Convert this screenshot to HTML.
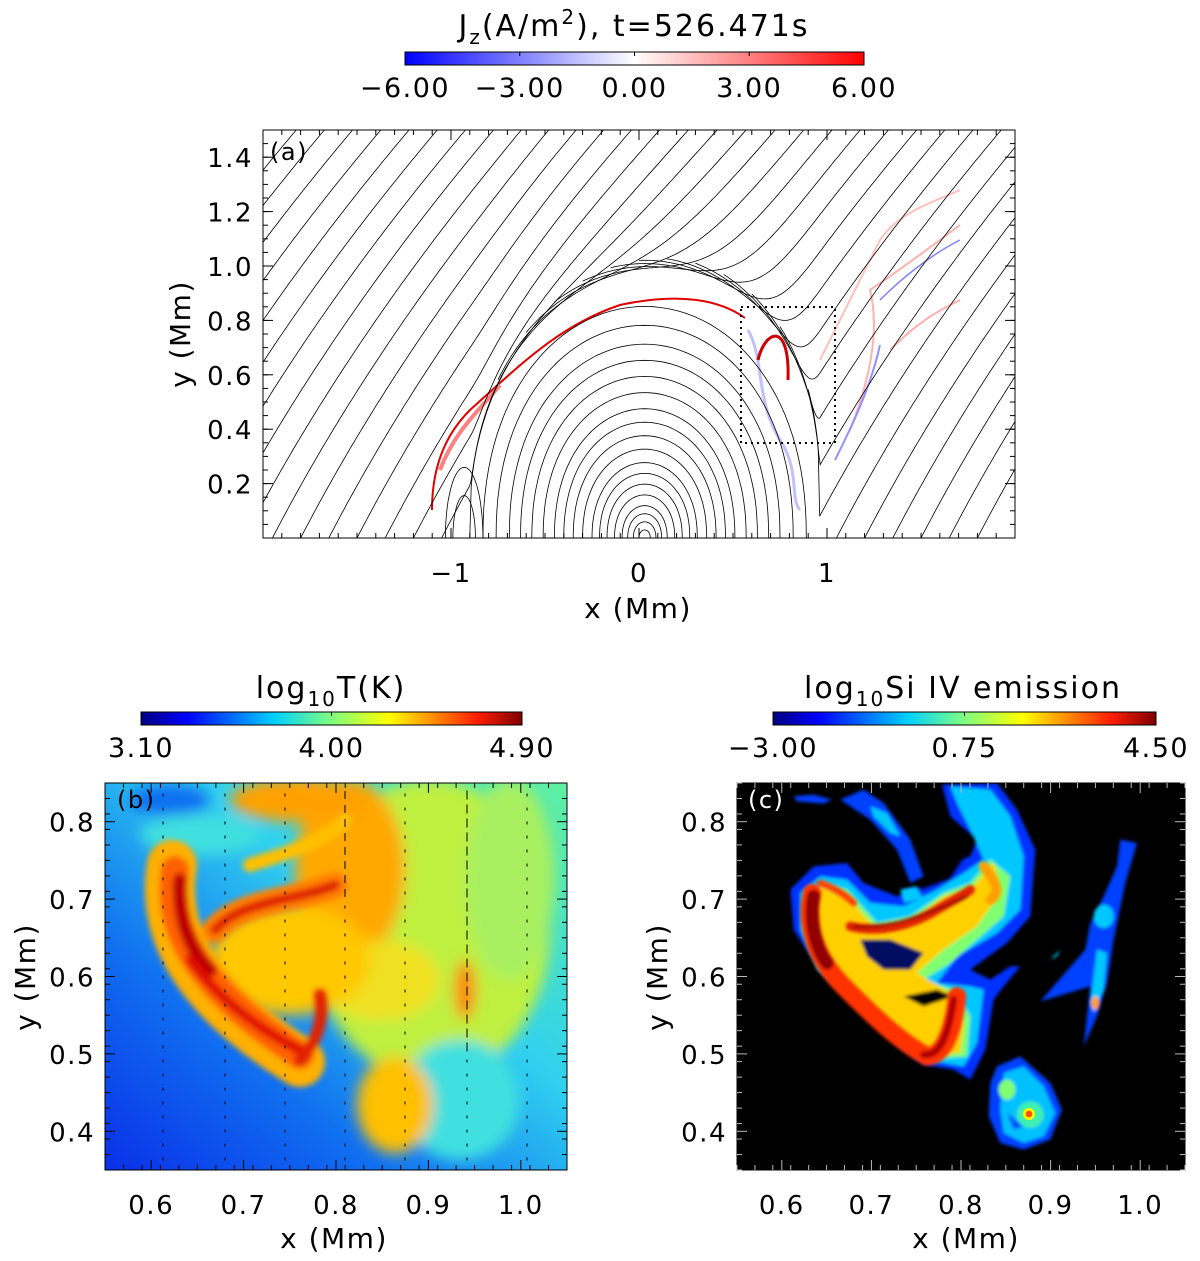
<!DOCTYPE html>
<html><head><meta charset="utf-8"><style>
body{margin:0;background:#fff;}
svg text{font-family:"DejaVu Sans","Liberation Sans",sans-serif;fill:#000;letter-spacing:1.5px;}
</style></head><body>
<svg id="fig" width="1200" height="1256" viewBox="0 0 1200 1256" xmlns="http://www.w3.org/2000/svg">
<defs>
<linearGradient id="gJ" x1="0" x2="1" y1="0" y2="0"><stop offset="0" stop-color="#0000ff"/><stop offset="0.5" stop-color="#ffffff"/><stop offset="1" stop-color="#ff0000"/></linearGradient>
<linearGradient id="gJet" x1="0" x2="1" y1="0" y2="0"><stop offset="0" stop-color="#00007f"/><stop offset="0.12" stop-color="#0000ff"/><stop offset="0.35" stop-color="#00d0ff"/><stop offset="0.5" stop-color="#7fff7f"/><stop offset="0.65" stop-color="#ffff00"/><stop offset="0.88" stop-color="#ff2000"/><stop offset="1" stop-color="#7f0000"/></linearGradient>
<linearGradient id="gBg" x1="0" y1="1" x2="1" y2="0"><stop offset="0" stop-color="#0a30e8"/><stop offset="0.3" stop-color="#1070f0"/><stop offset="0.6" stop-color="#30d0f0"/><stop offset="1" stop-color="#60f0a0"/></linearGradient>
<filter id="bl6" x="-50%" y="-50%" width="200%" height="200%"><feGaussianBlur stdDeviation="7"/></filter>
<filter id="bl3" x="-50%" y="-50%" width="200%" height="200%"><feGaussianBlur stdDeviation="3"/></filter>
<filter id="bl5z" x="-20%" y="-20%" width="140%" height="140%"><feGaussianBlur stdDeviation="5"/></filter>
<clipPath id="clipA"><rect x="263" y="130" width="752" height="408"/></clipPath>
<clipPath id="clipB"><rect x="105" y="783" width="462" height="387"/></clipPath>
<clipPath id="clipC"><rect x="737" y="783" width="448" height="387"/></clipPath>
</defs>

<text x="634" y="36" font-size="30" text-anchor="middle" style="letter-spacing:2px">J<tspan font-size="20" dy="8">z</tspan><tspan dy="-8">(A/m</tspan><tspan font-size="20" dy="-12">2</tspan><tspan dy="12">), t=526.471s</tspan></text>
<rect x="405" y="52" width="459" height="13" fill="url(#gJ)" stroke="#000" stroke-width="1"/>
<g id="cbAticks"></g>

<g clip-path="url(#clipA)">
<rect x="263" y="130" width="752" height="408" fill="#fff"/>
<g id="jcur"></g>
<g id="flines" fill="none" stroke="#000" stroke-width="0.8"></g>
</g>
<rect x="741" y="307" width="94" height="136" fill="none" stroke="#000" stroke-width="2" stroke-dasharray="2,4"/>
<rect x="263" y="130" width="752" height="408" fill="none" stroke="#000" stroke-width="1"/>
<g id="axA"></g>
<text x="270" y="160" font-size="24">(a)</text>
<text x="638" y="618" font-size="28" text-anchor="middle">x (Mm)</text>
<text transform="translate(190,334) rotate(-90)" font-size="28" text-anchor="middle">y (Mm)</text>

<text x="331" y="698" font-size="30" text-anchor="middle" style="letter-spacing:2px">log<tspan font-size="20" dy="8">10</tspan><tspan dy="-8">T(K)</tspan></text>
<rect x="141" y="712" width="381" height="13" fill="url(#gJet)" stroke="#000"/>
<g id="cbBticks"></g>
<g clip-path="url(#clipB)">
<rect x="105" y="783" width="462" height="387" fill="url(#gBg)"/>
<g filter="url(#bl6)">
<ellipse cx="430" cy="930" rx="120" ry="150" fill="#c0f040"/>
<ellipse cx="510" cy="880" rx="45" ry="100" fill="#a8f060"/>
<ellipse cx="460" cy="1100" rx="60" ry="60" fill="#40e0e0"/>
<ellipse cx="350" cy="870" rx="55" ry="90" fill="#ffa800"/>
<ellipse cx="380" cy="980" rx="60" ry="40" fill="#f0e020"/>
<ellipse cx="290" cy="960" rx="80" ry="55" fill="#ffc800"/>
<ellipse cx="395" cy="1105" rx="38" ry="48" fill="#ffc000"/>
<ellipse cx="300" cy="800" rx="70" ry="22" fill="#ffa000"/>
<ellipse cx="200" cy="835" rx="60" ry="20" fill="#40e0e0"/>
<ellipse cx="170" cy="800" rx="40" ry="15" fill="#1070f0"/>
<ellipse cx="465" cy="990" rx="10" ry="30" fill="#ff8000"/>
</g>
<g filter="url(#bl3)" fill="none" stroke-linecap="round">
<path d="M172,865 C160,935 200,1000 300,1062" stroke="#ffb000" stroke-width="50"/>
<path d="M175,870 C165,930 200,990 300,1055" stroke="#ff6000" stroke-width="28"/>
<path d="M180,880 C178,920 190,950 210,970" stroke="#c00000" stroke-width="14"/>
<path d="M190,960 C220,1000 260,1030 300,1050" stroke="#e01000" stroke-width="10"/>
<path d="M215,930 C240,900 300,900 335,885" stroke="#ff8000" stroke-width="26"/>
<path d="M215,930 C240,900 300,900 335,885" stroke="#e02000" stroke-width="10"/>
<path d="M320,995 C325,1020 315,1045 300,1060" stroke="#e02000" stroke-width="12"/>
<path d="M250,865 C280,855 320,845 345,820" stroke="#ffc000" stroke-width="14"/>
</g>
<g id="vecs" stroke="#000" stroke-width="1" fill="none"></g>
</g>
<rect x="105" y="783" width="462" height="387" fill="none" stroke="#000"/>
<g id="axB"></g>
<text x="117" y="808" font-size="24">(b)</text>
<text x="334" y="1248" font-size="28" text-anchor="middle">x (Mm)</text>
<text transform="translate(35,977) rotate(-90)" font-size="28" text-anchor="middle">y (Mm)</text>

<text x="963" y="698" font-size="30" text-anchor="middle" style="letter-spacing:2px">log<tspan font-size="20" dy="8">10</tspan><tspan dy="-8">Si IV emission</tspan></text>
<rect x="773" y="712" width="383" height="13" fill="url(#gJet)" stroke="#000"/>
<g id="cbCticks"></g>
<g clip-path="url(#clipC)">
<rect x="737" y="783" width="448" height="387" fill="#000"/>
<g transform="translate(737,783) scale(0.33333)">
<g filter="url(#bl5z)">
<!-- main heart outer blue -->
<path d="M160,320 L230,250 L330,240 L380,300 L480,340 L560,300 L620,250 L700,220 L720,170 L640,100 L615,5 L780,0 L840,80 L895,200 L880,400 L810,480 L700,560 L760,590 L820,550 L850,550 L800,610 L770,650 L745,800 L700,890 L650,860 L560,845 L500,800 L440,740 L330,640 L240,550 L170,440 Z" fill="#0030ff"/>
<!-- cyan interior -->
<path d="M190,330 L250,280 L330,290 L400,360 L500,370 L600,320 L680,270 L740,230 L700,140 L660,60 L640,10 L760,20 L820,100 L860,220 L850,380 L780,450 L660,520 L600,600 L700,610 L740,620 L720,780 L680,850 L560,830 L470,770 L340,650 L240,560 L190,440 Z" fill="#00c8ff"/>
<!-- green/yellow -->
<path d="M205,330 L260,300 L330,320 L420,420 L520,400 L620,330 L700,300 L760,230 L820,280 L800,400 L720,470 L640,540 L560,590 L650,620 L700,700 L690,820 L560,830 L470,760 L350,650 L250,560 L200,440 Z" fill="#80ff70"/>
<path d="M210,330 L260,310 L330,340 L420,440 L520,420 L620,340 L700,320 L770,240 L790,330 L720,430 L620,500 L540,570 L640,630 L680,720 L670,810 L560,820 L470,750 L350,640 L260,560 L210,440 Z" fill="#ffd000"/>
<!-- dark inner gaps -->
<path d="M370,470 L460,470 L560,510 L520,560 L440,560 L390,520 Z" fill="#000a60"/>
<path d="M500,640 L600,620 L650,640 L560,670 Z" fill="#000"/>
<path d="M480,270 L560,200 L680,230 L640,290 L560,320 L500,320 Z" fill="#000"/>
</g>
<g filter="url(#bl5z)" fill="none" stroke-linecap="round">
<path d="M225,330 C205,420 230,520 320,610 C400,690 480,770 570,820 C620,820 650,740 660,640" stroke="#ff3000" stroke-width="55"/>
<path d="M230,340 C215,420 240,500 270,540" stroke="#900000" stroke-width="40"/>
<path d="M560,815 C600,820 630,780 650,650" stroke="#b00000" stroke-width="22"/>
<path d="M340,430 C420,450 520,430 600,380 C650,350 690,330 700,320" stroke="#e02000" stroke-width="28"/>
<path d="M350,430 C450,440 560,400 690,340" stroke="#700000" stroke-width="6"/>
<path d="M740,250 C780,300 790,330 760,350" stroke="#ffa000" stroke-width="30"/>
<path d="M250,300 C280,310 320,330 350,360" stroke="#ff4000" stroke-width="20"/>
</g>
<!-- top pieces -->
<g filter="url(#bl5z)">
<path d="M170,40 L230,35 L285,50 L260,62 L180,55 Z" fill="#0040ff"/>
<path d="M310,50 L380,20 L440,60 L520,170 L560,280 L520,300 L480,200 L400,110 Z" fill="#0040ff"/>
<path d="M400,70 L450,90 L490,160 L460,150 L410,100 Z" fill="#00c8ff"/>
<path d="M490,320 L540,310 L560,350 L500,360 Z" fill="#00c8ff"/>
<!-- right tail -->
<path d="M1040,790 L1060,610 L910,655 L1045,500 L1060,420 L1100,340 L1140,250 L1150,170 L1200,180 L1165,300 L1130,470 L1110,600 L1080,700 Z" fill="#0040ff"/>
<ellipse cx="1100" cy="400" rx="30" ry="35" fill="#00c8ff"/>
<path d="M1080,500 L1110,510 L1100,620 L1070,690 L1060,660 Z" fill="#00c8ff"/>
<ellipse cx="1075" cy="660" rx="12" ry="20" fill="#ffa000"/>
<path d="M900,550 L960,520 L970,500 L940,530 Z" fill="#00c8ff"/>
<!-- bubble -->
<path d="M780,850 L850,820 L940,900 L975,980 L940,1070 L860,1100 L790,1080 L755,1000 L760,900 Z" fill="#0040ff"/>
<path d="M800,870 L860,850 L920,910 L955,990 L920,1060 L860,1080 L800,1050 L790,980 Z" fill="#00c0ff"/>
<ellipse cx="880" cy="995" rx="40" ry="40" fill="#40f0b0"/>
<ellipse cx="810" cy="920" rx="25" ry="30" fill="#80ff70"/>
<path d="M810,990 L860,1030 L830,1040 Z" fill="#0050ff"/>
</g>
<circle cx="876" cy="993" r="18" fill="#ffff00"/>
<circle cx="876" cy="993" r="10" fill="#ff5000"/>
</g>
</g>
<rect x="737" y="783" width="448" height="387" fill="none" stroke="#000"/>
<g id="axC"></g>
<text x="748" y="808" font-size="24" style="fill:#fff">(c)</text>
<text x="966" y="1248" font-size="28" text-anchor="middle">x (Mm)</text>
<text transform="translate(667,977) rotate(-90)" font-size="28" text-anchor="middle">y (Mm)</text>
</svg>
<script>
const NS="http://www.w3.org/2000/svg";
const cbATicks=["−6.00","−3.00","0.00","3.00","6.00"];
const cbBTicks=["3.10","4.00","4.90"];
const cbCTicks=["−3.00","0.75","4.50"];
const axAxTicks=[-1,0,1];
const axAyTicks=[0.2,0.4,0.6,0.8,1.0,1.2,1.4];
const axBxTicks=[0.6,0.7,0.8,0.9,1.0];
const axByTicks=[0.4,0.5,0.6,0.7,0.8];
const arcadeWidths=[0.03,0.06,0.09,0.12,0.16,0.2,0.24,0.28,0.33,0.38,0.43,0.48,0.54,0.6,0.66,0.72,0.79,0.86];
const openLineOffsets=[-3.3,-3.15,-3.0,-2.85,-2.7,-2.55,-2.4,-2.25,-2.1,-1.95,-1.8,-1.65,-1.5,-1.35,-1.2,-1.05,-0.9,-0.75,-0.6,-0.45,-0.3,-0.15,0.0,0.15,0.3,0.45,0.6,0.75,0.9,1.05,1.2,1.35,1.5,1.65,1.8];

function mk(tag,attrs,parent){const e=document.createElementNS(NS,tag);for(const k in attrs)e.setAttribute(k,attrs[k]);parent.appendChild(e);return e;}
function lin(d0,d1,p0,p1){return v=>p0+(v-d0)*(p1-p0)/(d1-d0);}

function cbTicks(id,labels,x0,x1,yTop){
 const g=document.getElementById(id);
 labels.forEach((l,i)=>{const x=x0+i*(x1-x0)/(labels.length-1);
  const t=mk('text',{x:x,y:yTop+45,'text-anchor':'middle','font-size':27},g);t.textContent=l;
  
  
  mk('line',{x1:x,x2:x,y1:yTop,y2:yTop+4,stroke:'#000'},g);});
}
cbTicks('cbAticks',cbATicks,405,864,52);
cbTicks('cbBticks',cbBTicks,141,522,712);
cbTicks('cbCticks',cbCTicks,773,1156,712);

function axes(id,box,xr,yr,xt,yt,fmtx,fmty,major,minorX,minorY,tc){
 const g=document.getElementById(id);
 const sx=lin(xr[0],xr[1],box[0],box[0]+box[2]), sy=lin(yr[0],yr[1],box[1]+box[3],box[1]);
 const st=tc||'#000';
 xt.forEach(v=>{const x=sx(v);
  mk('line',{x1:x,x2:x,y1:box[1]+box[3],y2:box[1]+box[3]-major,stroke:st},g);
  mk('line',{x1:x,x2:x,y1:box[1],y2:box[1]+major,stroke:st},g);
  const t=mk('text',{x:x,y:box[1]+box[3]+44,'text-anchor':'middle','font-size':26},g);t.textContent=fmtx(v);
  
  });
 yt.forEach(v=>{const y=sy(v);
  mk('line',{x1:box[0],x2:box[0]+major,y1:y,y2:y,stroke:st},g);
  mk('line',{x1:box[0]+box[2],x2:box[0]+box[2]-major,y1:y,y2:y,stroke:st},g);
  const t=mk('text',{x:box[0]-10,y:y+10,'text-anchor':'end','font-size':26},g);t.textContent=fmty(v);
  
  });
 for(let v=xr[0];v<=xr[1]+1e-9;v+=minorX){const x=sx(v);
  mk('line',{x1:x,x2:x,y1:box[1]+box[3],y2:box[1]+box[3]-major/2,stroke:st},g);
  mk('line',{x1:x,x2:x,y1:box[1],y2:box[1]+major/2,stroke:st},g);}
 for(let v=yr[0];v<=yr[1]+1e-9;v+=minorY){const y=sy(v);
  mk('line',{x1:box[0],x2:box[0]+major/2,y1:y,y2:y,stroke:st},g);
  mk('line',{x1:box[0]+box[2],x2:box[0]+box[2]-major/2,y1:y,y2:y,stroke:st},g);}
}
axes('axA',[263,130,752,408],[-2,2],[0,1.5],axAxTicks,axAyTicks,v=>v<0?'−'+Math.abs(v):String(v),v=>v.toFixed(1),10,0.1,0.05);
axes('axB',[105,783,462,387],[0.55,1.05],[0.35,0.85],axBxTicks,axByTicks,v=>v.toFixed(1),v=>v.toFixed(1),10,0.02,0.02);
axes('axC',[737,783,448,387],[0.55,1.05],[0.35,0.85],axBxTicks,axByTicks,v=>v.toFixed(1),v=>v.toFixed(1),10,0.02,0.02,'#bbb');

// Panel A field lines
const sxA=lin(-2,2,263,1015), syA=lin(0,1.5,538,130);
const fl=document.getElementById('flines');
const cx0=0.03;
arcadeWidths.forEach(w=>{
 let d='';const h=w*0.99;
 for(let i=0;i<=60;i++){const th=Math.PI*i/60;const x=cx0+w*Math.cos(th), y=h*Math.pow(Math.sin(th),0.9);d+=(i?'L':'M')+sxA(x).toFixed(1)+','+syA(y).toFixed(1);}
 const p=mk('path',{d:d},fl);
 
 
});
[0.06,0.1].forEach(w=>{let d='';for(let i=0;i<=40;i++){const th=Math.PI*i/40;d+=(i?'L':'M')+sxA(-0.93+w*Math.cos(th)).toFixed(1)+','+syA(w*2.6*Math.sin(th)).toFixed(1);}
 const p=mk('path',{d:d},fl);
 
 });
const W=0.93,H=0.9;
function env(x){const dx=(x-cx0)/W;if(Math.abs(dx)>=1)return 0;return H*Math.pow(1-dx*dx,0.45);}
openLineOffsets.forEach((c,k)=>{
 let d='';
 for(let i=0;i<=160;i++){const y0=i*1.6/160;
  const x=c+y0*(0.75+0.25*y0/1.6);
  const g=0.025+0.012*Math.max(0,k-14);
  const e=env(x)>0?env(x)+g:0;
  const L=Math.max(y0,0.0001), p=6;
  let yy=Math.pow(Math.pow(L,p)+Math.pow(e,p),1/p);
  d+=(i?'L':'M')+sxA(x).toFixed(1)+','+syA(yy).toFixed(1);}
 const p=mk('path',{d:d},fl);
 
 
});
const jc=document.getElementById('jcur');
const cur=[
 ['M432,510 C432,460 450,430 470,410 C520,365 560,325 620,305 C680,292 720,300 745,318','#e00000',2],
 ['M440,470 C455,430 480,410 500,385','#ff8080',4],
 ['M748,330 C765,360 755,400 780,440 C800,470 790,500 800,510','#c0c0ff',3],
 ['M758,360 C765,330 790,320 788,380','#d00000',3],
 ['M850,430 C870,380 880,330 870,290 C900,270 940,240 960,225','#ffb0b0',2],
 ['M820,360 C840,320 860,280 880,240 C900,210 940,200 960,190','#ffc0c0',2],
 ['M880,300 C910,270 940,250 960,240','#8080ff',1.5],
 ['M835,460 C850,430 870,390 880,345','#9090ff',2],
 ['M890,350 C920,320 940,310 960,300','#ffb0b0',2]];
cur.forEach(c=>{const p=mk('path',{d:c[0],stroke:c[1],'stroke-width':c[2],fill:'none'},jc);
 
 });
const vg=document.getElementById('vecs');
[163,225,285,345,405,467,527].forEach((x,j)=>{
 for(let y=795;y<1170;y+=14){const len=(j===5&&y<1050?9:(j===3&&y<900?8:3));const l=mk('line',{x1:x,y1:y+len/2,x2:x,y2:y-len/2},vg);
  
  }
});
</script>
</body></html>
